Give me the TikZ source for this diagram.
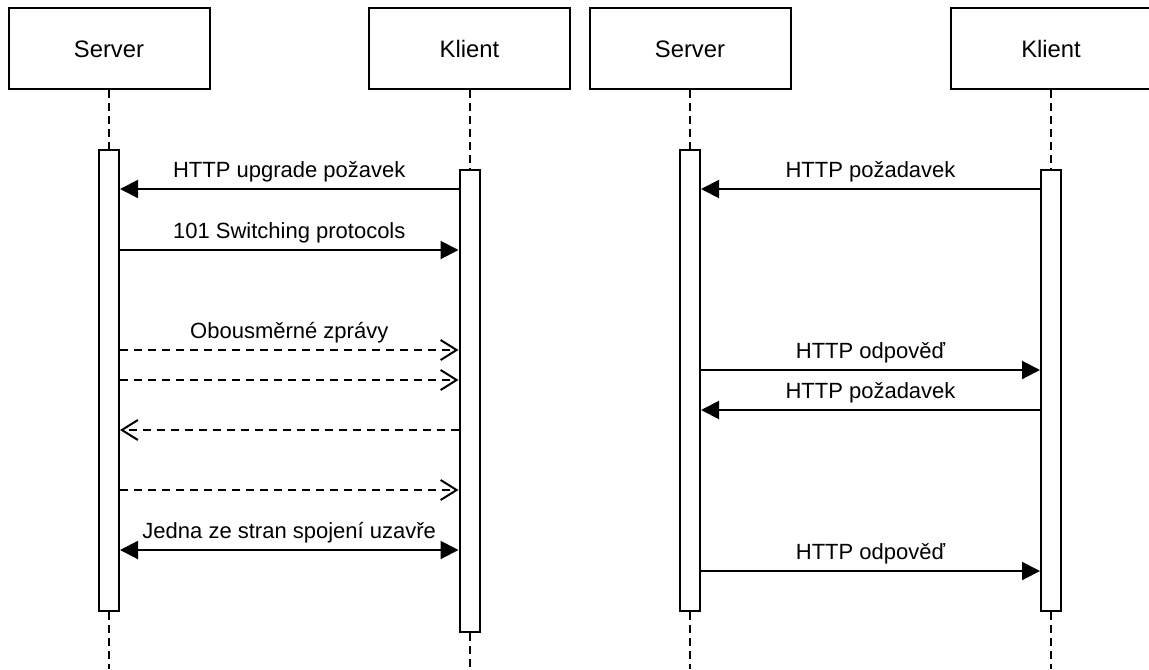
\documentclass[tikz,border=0pt]{standalone}
\usepackage{fontspec}
\setmainfont{Liberation Sans}
\usetikzlibrary{arrows.meta}
\definecolor{seqline}{HTML}{000000}

\begin{document}
\begin{tikzpicture}[x=0.5pt,y=-0.5pt,
    head/.style={draw=seqline,line width=1pt,fill=white,minimum width=100.5pt,minimum height=40.5pt,inner sep=0pt,text height=8.6pt,text depth=0pt,font=\fontsize{11.9}{14}\selectfont},
    act/.style={draw=seqline,line width=1pt,fill=white,minimum width=10pt,inner sep=0pt,anchor=north},
    life/.style={seqline,line width=1pt,dash pattern=on 4pt off 2.5pt},
    sync/.style={seqline,line width=1pt,-{Triangle[length=9pt,width=9pt]}},
    async/.style={seqline,line width=1pt,dash pattern=on 4pt off 3pt,-{Straight Barb[length=8pt,width=10pt]}},
    both/.style={seqline,line width=1pt,{Triangle[length=9pt,width=9pt]}-{Triangle[length=9pt,width=9pt]}},
    lbl/.style={anchor=base,yshift=6pt,inner sep=0pt}]
  \useasboundingbox (0,0) rectangle (1149,669);
  \fontsize{11}{13}\selectfont
  % lifeline heads
  \node[head] (srv1) at (109,48.5) {Server};
  \node[head] (kl1) at (469.5,48.5) {Klient};
  \node[head] (srv2) at (690,48.5) {Server};
  \node[head] (kl2) at (1051,48.5) {Klient};
  % ends of the lifelines
  \coordinate (srv1end) at (109,669);
  \coordinate (kl1end) at (469.5,669);
  \coordinate (srv2end) at (690,669);
  \coordinate (kl2end) at (1051,669);
  % activations
  \node[act,minimum height=230.5pt] (sa1) at (109,149) {};
  \node[act,minimum height=231pt] (ka1) at (469.5,169) {};
  \node[act,minimum height=230.5pt] (sa2) at (690,149) {};
  \node[act,minimum height=220.5pt] (ka2) at (1051,169) {};
  \draw[life] (srv1) -- (sa1);
  \draw[life] (sa1) -- (srv1end);
  \draw[life] (kl1) -- (ka1);
  \draw[life] (ka1) -- (kl1end);
  \draw[life] (srv2) -- (sa2);
  \draw[life] (sa2) -- (srv2end);
  \draw[life] (kl2) -- (ka2);
  \draw[life] (ka2) -- (kl2end);
  % message rows
  \coordinate (r1) at (0,189);
  \coordinate (r2) at (0,250);
  \coordinate (r3) at (0,350);
  \coordinate (r4) at (0,380);
  \coordinate (r5) at (0,430);
  \coordinate (r6) at (0,490);
  \coordinate (r7) at (0,550);
  \coordinate (q2) at (0,370);
  \coordinate (q3) at (0,410);
  \coordinate (q4) at (0,571);
  % websocket
  \draw[sync] (ka1.west |- r1) -- node[lbl] {HTTP upgrade požavek} (sa1.east |- r1);
  \draw[sync] (sa1.east |- r2) -- node[lbl] {101 Switching protocols} (ka1.west |- r2);
  \draw[async] (sa1.east |- r3) -- node[lbl] {Obousměrné zprávy} (ka1.west |- r3);
  \draw[async] (sa1.east |- r4) -- (ka1.west |- r4);
  \draw[async] (ka1.west |- r5) -- (sa1.east |- r5);
  \draw[async] (sa1.east |- r6) -- (ka1.west |- r6);
  \draw[both] (sa1.east |- r7) -- node[lbl] {Jedna ze stran spojení uzavře} (ka1.west |- r7);
  % plain http
  \draw[sync] (ka2.west |- r1) -- node[lbl] {HTTP požadavek} (sa2.east |- r1);
  \draw[sync] (sa2.east |- q2) -- node[lbl] {HTTP odpověď} (ka2.west |- q2);
  \draw[sync] (ka2.west |- q3) -- node[lbl] {HTTP požadavek} (sa2.east |- q3);
  \draw[sync] (sa2.east |- q4) -- node[lbl] {HTTP odpověď} (ka2.west |- q4);
\end{tikzpicture}
\end{document}
